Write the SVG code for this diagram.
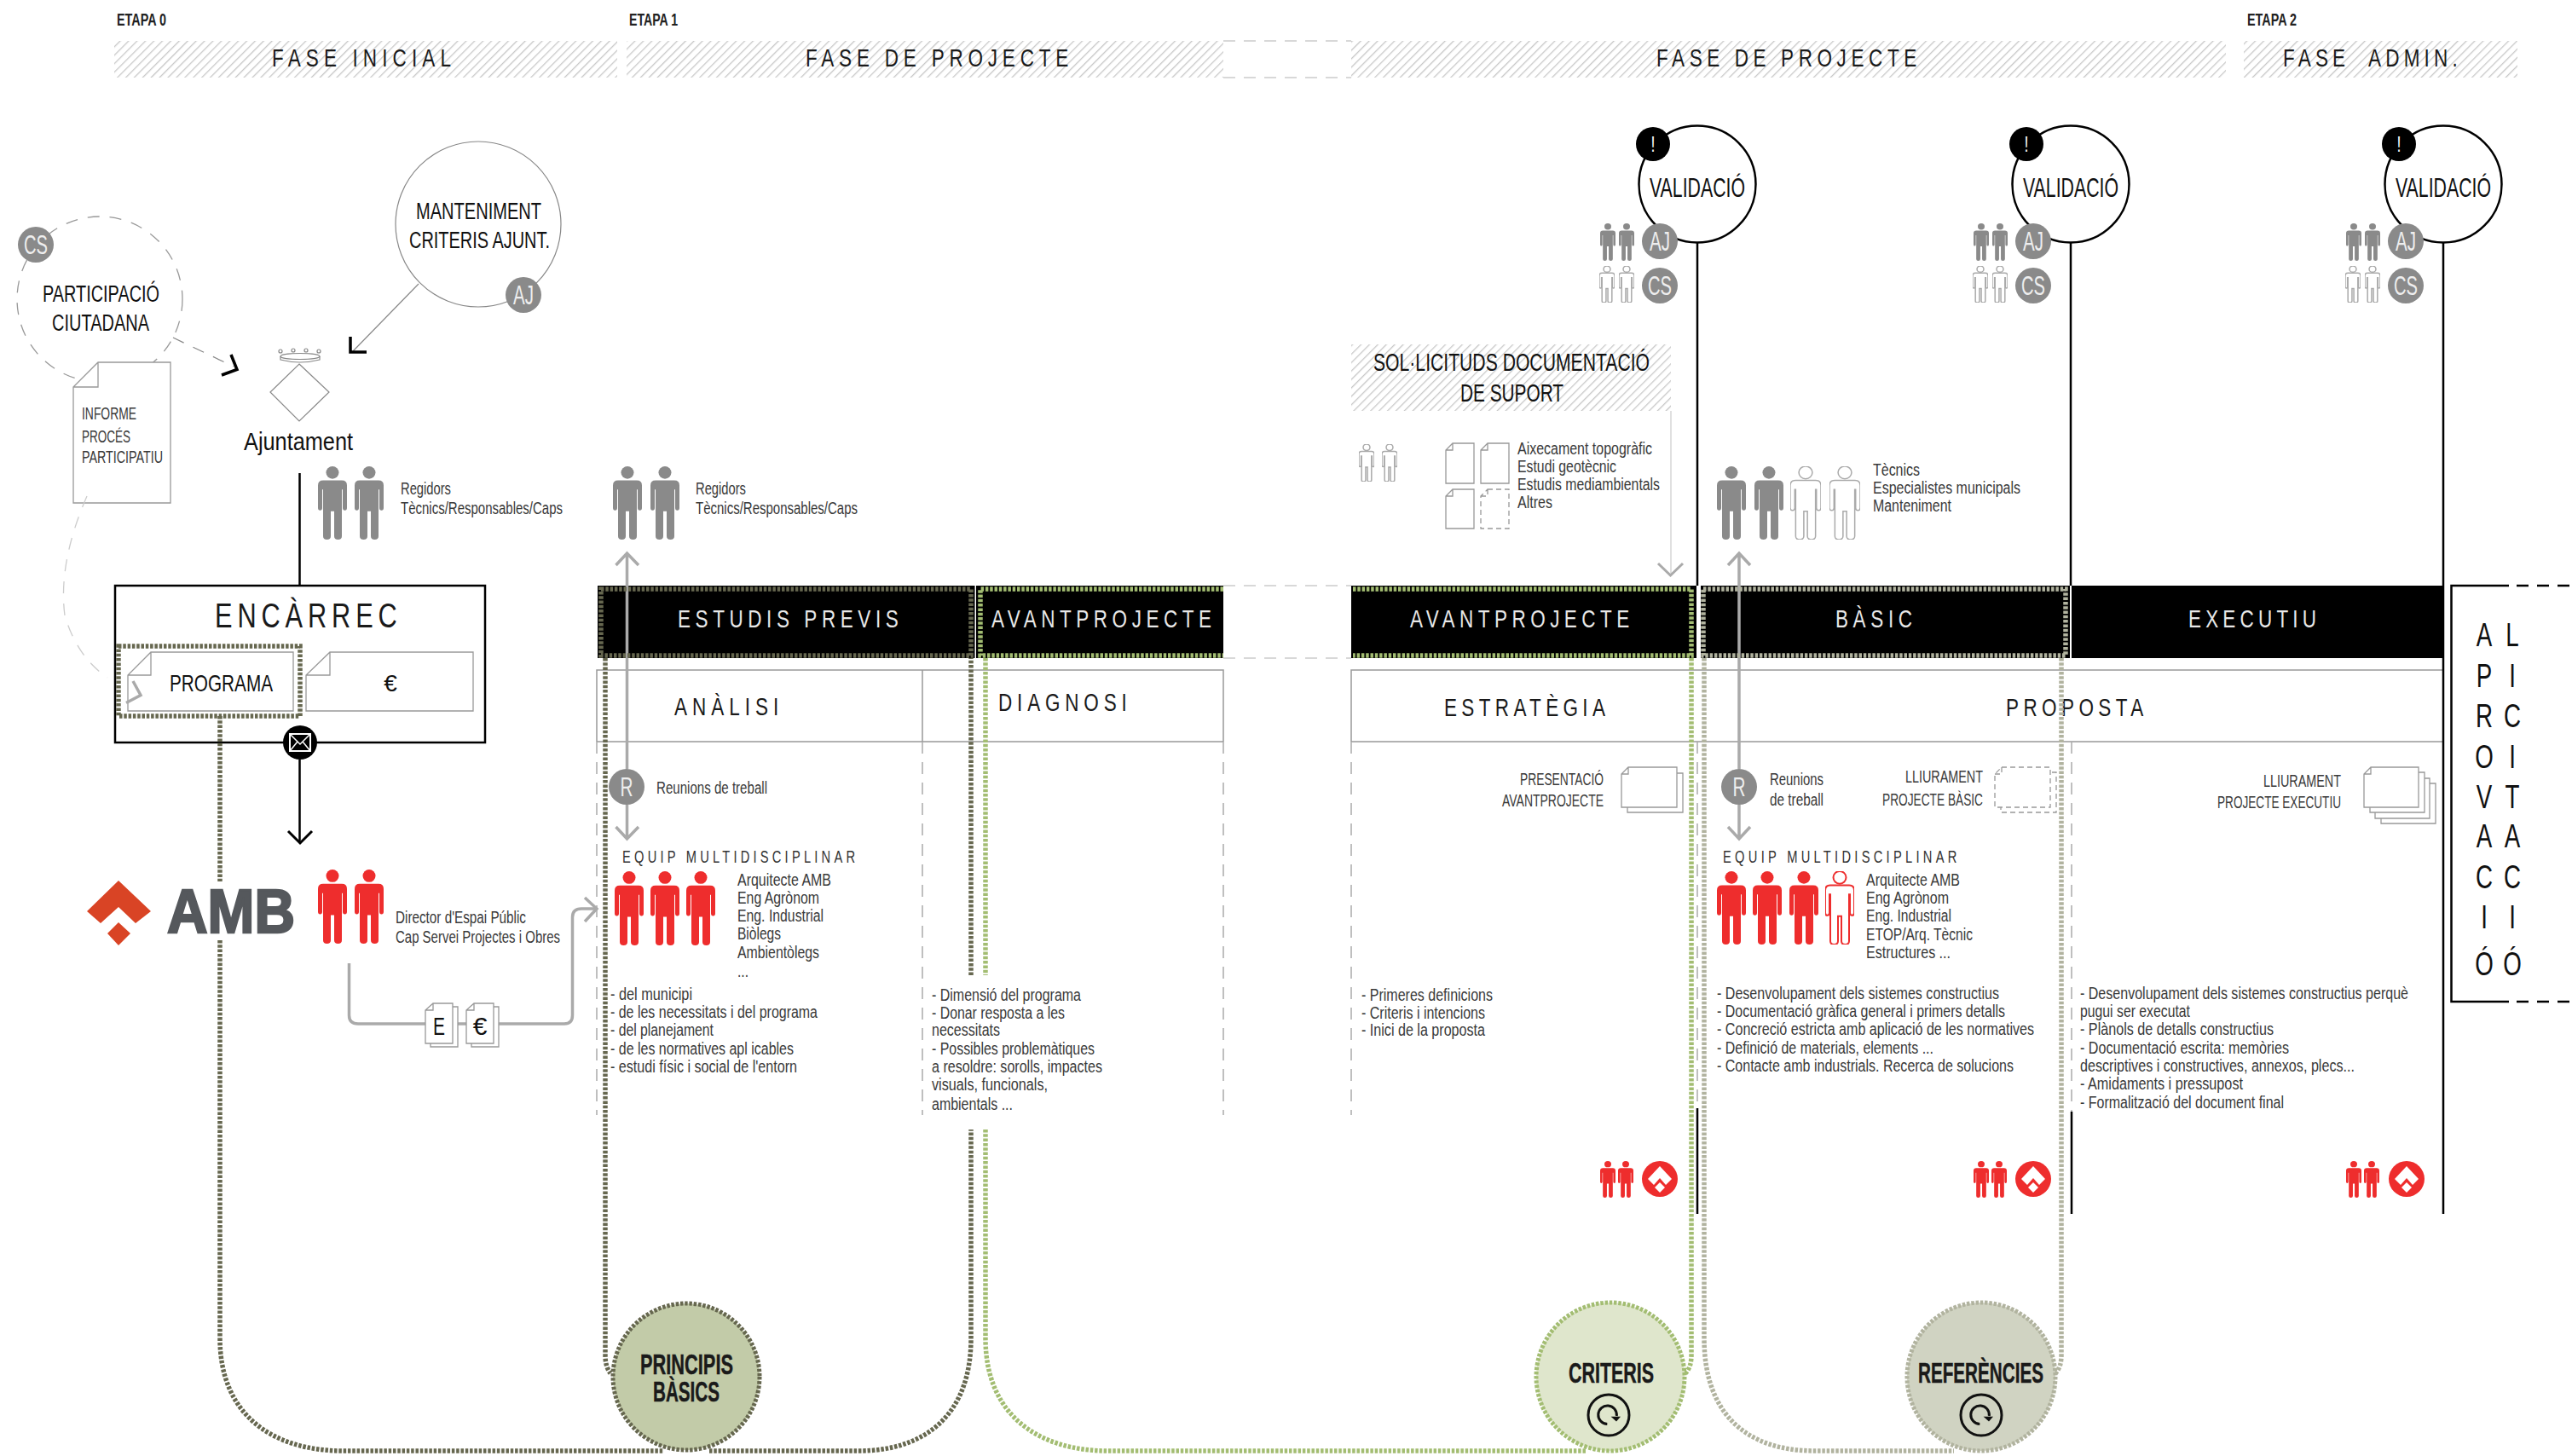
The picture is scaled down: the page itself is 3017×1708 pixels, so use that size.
<svg xmlns="http://www.w3.org/2000/svg" width="3017" height="1708" viewBox="0 0 3017 1708">
<style>
text{font-family:"Liberation Sans",Arial,sans-serif;fill:#222}
.b{font-size:20px;fill:#3a3a3a}
.lb{font-size:27px;fill:#111}
.h{font-size:30px;fill:#1a1a1a}
.w{font-size:30px;fill:#e8e8e8}
.ss{font-size:21px;fill:#333}
.et{font-size:20px;font-weight:bold;fill:#222}
.bd{font-size:33px;font-weight:bold;fill:#1a1a1a;stroke:#1a1a1a;stroke-width:.5}
.bt{font-size:31px;fill:#eee;text-anchor:middle}
.ap{font-size:38px;fill:#111;text-anchor:middle}
.doc{fill:#fff;stroke:#999;stroke-width:1.3}
.docd{fill:#fff;stroke:#999;stroke-width:1.3;stroke-dasharray:6 4}
.thin{fill:none;stroke:#888;stroke-width:1.2}
.vdash{fill:none;stroke:#aaa;stroke-width:1.5;stroke-dasharray:14 10}
.ldash{fill:none;stroke:#ccc;stroke-width:1.5;stroke-dasharray:14 10}
.frame{fill:none;stroke:#999;stroke-width:1.5}
.blk{fill:none;stroke:#000;stroke-width:2.5}
.chev{fill:none;stroke:#000;stroke-width:3.5}
.gl{fill:none;stroke:#aaa;stroke-width:3.5}
.dk,.gn,.gy{fill:none;stroke-width:5.5;stroke-dasharray:3.5 1.8}
.dk{stroke:#66674f}.gn{stroke:#a3bd72}.gy{stroke:#b1b39f}
.box{fill:#000}
.bg{fill:#8a8a8a}
.pg{fill:#8a8a8a}.pr{fill:#ee2d2d}
.og{fill:#fff;stroke:#aaa;stroke-width:1.5}.or{fill:#fff;stroke:#ee2d2d;stroke-width:2}
.val{fill:#fff;stroke:#000;stroke-width:2.5}
</style>
<defs>
<pattern id="hatch" width="7" height="7" patternUnits="userSpaceOnUse" patternTransform="rotate(45)">
<rect width="7" height="7" fill="#fff"/><rect width="1.3" height="7" fill="#c8c8c8"/>
</pattern>
<symbol id="p" viewBox="0 0 34 88" preserveAspectRatio="none">
<circle cx="17" cy="7.5" r="7.5" vector-effect="non-scaling-stroke"/>
<path vector-effect="non-scaling-stroke" d="M6 17H28Q34 17 34 23V50Q34 53 31.5 53Q29 53 29 50V28H28V84Q28 88 23.5 88Q19 88 19 84V54H15V84Q15 88 10.5 88Q6 88 6 84V28H5V50Q5 53 2.5 53Q0 53 0 50V23Q0 17 6 17Z"/>
</symbol>
<symbol id="ref" viewBox="-26 -26 52 52" overflow="visible">
<circle r="24" fill="none" stroke="#111" stroke-width="3"/>
<path d="M-1.700 10.500A10.800 10.800 0 1 1 9.300 1" fill="none" stroke="#111" stroke-width="3"/>
<path d="M2.600 1.700L14 1.700L9 7.500Z" fill="#111"/>
</symbol>
<symbol id="amb" viewBox="-21 -21 42 42" overflow="visible">
<circle r="21" fill="#ee2d2d"/>
<path d="M0 -15L14 0L7 7L0 -1L-7 7L-14 0Z" fill="#fff"/>
<path d="M0 4L6 10L0 16L-6 10Z" fill="#fff"/>
</symbol>
</defs>
<rect width="3017" height="1708" fill="#fff"/>

<g id="fases">
<text x="137" y="30" class="et" textLength="58" lengthAdjust="spacingAndGlyphs">ETAPA 0</text>
<text x="738" y="30" class="et" textLength="57" lengthAdjust="spacingAndGlyphs">ETAPA 1</text>
<text x="2636" y="30" class="et" textLength="58" lengthAdjust="spacingAndGlyphs">ETAPA 2</text>
<rect x="134" y="48" width="590" height="43" fill="url(#hatch)"/>
<rect x="735" y="48" width="700" height="43" fill="url(#hatch)"/>
<rect x="1585" y="48" width="1026" height="43" fill="url(#hatch)"/>
<rect x="2632" y="48" width="321" height="43" fill="url(#hatch)"/>
<path class="ldash" d="M1435 48H1585M1435 91H1585"/>
<text transform="translate(319 78) scale(.75 1)" class="h" textLength="280" lengthAdjust="spacing">FASE INICIAL</text>
<text transform="translate(945 78) scale(.75 1)" class="h" textLength="411" lengthAdjust="spacing">FASE DE PROJECTE</text>
<text transform="translate(1943 78) scale(.75 1)" class="h" textLength="407" lengthAdjust="spacing">FASE DE PROJECTE</text>
<text transform="translate(2678 78) scale(.75 1)" class="h" textLength="273" lengthAdjust="spacing" xml:space="preserve">FASE  ADMIN.</text>
</g>

<g id="participacio">
<circle cx="117" cy="351" r="97" fill="none" stroke="#999" stroke-width="1.3" stroke-dasharray="14 12"/>
<text x="50" y="354" class="lb" textLength="137" lengthAdjust="spacingAndGlyphs">PARTICIPACIÓ</text>
<text x="61" y="388" class="lb" textLength="114" lengthAdjust="spacingAndGlyphs">CIUTADANA</text>
<circle cx="42" cy="287" r="21" class="bg"/><text x="42" y="298" class="bt" textLength="28" lengthAdjust="spacingAndGlyphs">CS</text>
</g>
<g id="informe">
<path class="doc" d="M115 425H200V590H86V454ZM115 425V454H86"/>
<text x="96" y="492" class="b" textLength="64" lengthAdjust="spacingAndGlyphs">INFORME</text>
<text x="96" y="519" class="b" textLength="57" lengthAdjust="spacingAndGlyphs">PROCÉS</text>
<text x="96" y="543" class="b" textLength="95" lengthAdjust="spacingAndGlyphs">PARTICIPATIU</text>
</g>
<g id="manteniment">
<circle cx="561" cy="263" r="97" class="thin" fill="#fff"/>
<text x="488" y="257" class="lb" textLength="147" lengthAdjust="spacingAndGlyphs">MANTENIMENT</text>
<text x="480" y="291" class="lb" textLength="165" lengthAdjust="spacingAndGlyphs">CRITERIS AJUNT.</text>
<circle cx="614" cy="346" r="21" class="bg"/><text x="614" y="357" class="bt" textLength="24" lengthAdjust="spacingAndGlyphs">AJ</text>
</g>
<g id="ajuntament">
<path class="thin" d="M351 427L386 460L351 494L317 460Z"/>
<ellipse cx="352" cy="418" rx="23" ry="3.5" class="thin"/><path class="thin" d="M329 418V422Q352 428 375 422V418"/>
<circle cx="329" cy="412" r="2" class="thin"/><circle cx="344" cy="411" r="2" class="thin"/><circle cx="359" cy="411" r="2" class="thin"/><circle cx="374" cy="412" r="2" class="thin"/>
<text x="286" y="528" textLength="128" lengthAdjust="spacingAndGlyphs" style="font-size:30px;fill:#111">Ajuntament</text>
<use href="#p" x="373" y="547" width="34" height="86" class="pg"/><use href="#p" x="416" y="547" width="34" height="86" class="pg"/>
<text x="470" y="580" class="b" textLength="59" lengthAdjust="spacingAndGlyphs">Regidors</text>
<text x="470" y="603" class="b" textLength="190" lengthAdjust="spacingAndGlyphs">Tècnics/Responsables/Caps</text>
</g>
<g id="encarrec">
<rect x="135" y="687" width="434" height="184" fill="#fff" stroke="#000" stroke-width="2.5"/>
<text transform="translate(252 736) scale(.75 1)" textLength="285" lengthAdjust="spacing" class="h" style="font-size:41px">ENCÀRREC</text>
<path class="doc" d="M177 765H344V834H150V792ZM177 765V792H150"/>
<path class="doc" d="M387 765H555V834H359V792ZM387 765V792H359"/>
<text x="199" y="811" class="lb" style="font-size:28px" textLength="121" lengthAdjust="spacingAndGlyphs">PROGRAMA</text>
<text x="458" y="811" class="lb" style="font-size:28px;text-anchor:middle">€</text>
<path d="M156 799L165 815.5L148 824.5" fill="none" stroke="#aaa" stroke-width="3.5"/>
<rect x="139" y="758" width="213" height="82" class="dk"/>
<circle cx="352" cy="871" r="20" fill="#000"/>
<rect x="340" y="861" width="24" height="20" fill="none" stroke="#fff" stroke-width="2"/><path d="M340 861L352 873L364 861M340 881L349 870M364 881L355 870" fill="none" stroke="#fff" stroke-width="1.5"/>
</g>
<g id="amb-logo">
<path d="M139 1033L177 1069L159 1083L139 1064L118 1083L102 1069Z" fill="#d94425"/>
<path d="M139 1082L153 1095L139 1109L126 1095Z" fill="#d94425"/>
<text x="196" y="1094" style="font-size:72px;fill:#55585c;font-weight:bold;stroke:#55585c;stroke-width:2.5" textLength="150" lengthAdjust="spacingAndGlyphs">AMB</text>
<use href="#p" x="373" y="1020" width="34" height="87" class="pr"/><use href="#p" x="416" y="1020" width="34" height="87" class="pr"/>
<text x="464" y="1083" class="b" textLength="153" lengthAdjust="spacingAndGlyphs">Director d'Espai Públic</text>
<text x="464" y="1106" class="b" textLength="193" lengthAdjust="spacingAndGlyphs">Cap Servei Projectes i Obres</text>
</g>

<g id="seccions">
<path class="frame" d="M700 870V786H1435V870M1082 786V870M700 870H1435"/>
<path class="frame" d="M1585 870V786H2866M1585 870H2866"/>
<path class="vdash" d="M700 870V1308M1082 870V1308M1435 870V1308M1585 870V1308M1991 870V1300M2430 870V1304"/>
<path class="ldash" d="M1435 687H1585M1435 772H1585"/>
<text transform="translate(791 839) scale(.75 1)" class="h" textLength="163" lengthAdjust="spacing">ANÀLISI</text>
<text transform="translate(1171 834) scale(.75 1)" class="h" textLength="201" lengthAdjust="spacing">DIAGNOSI</text>
<text transform="translate(1694 840) scale(.75 1)" class="h" textLength="252" lengthAdjust="spacing">ESTRATÈGIA</text>
<text transform="translate(2353 840) scale(.75 1)" class="h" textLength="215" lengthAdjust="spacing">PROPOSTA</text>
</g>
<g id="estudis-previs">
<rect x="701" y="687" width="442.500" height="85" class="box"/>
<text transform="translate(795 736) scale(.75 1)" class="w" textLength="345" lengthAdjust="spacing">ESTUDIS PREVIS</text>
</g>
<g id="avantprojecte-1">
<rect x="1145" y="687" width="290" height="85" class="box"/>
<text transform="translate(1163 736) scale(.75 1)" class="w" textLength="344" lengthAdjust="spacing">AVANTPROJECTE</text>
</g>
<g id="avantprojecte-2">
<rect x="1585" y="687" width="405" height="85" class="box"/>
<text transform="translate(1654 736) scale(.75 1)" class="w" textLength="343" lengthAdjust="spacing">AVANTPROJECTE</text>
</g>
<g id="basic">
<rect x="1995" y="687" width="433" height="85" class="box"/>
<text transform="translate(2153 736) scale(.75 1)" class="w" textLength="120" lengthAdjust="spacing">BÀSIC</text>
</g>
<g id="executiu">
<rect x="2430" y="687" width="436" height="85" class="box"/>
<text transform="translate(2567 736) scale(.75 1)" class="w" textLength="200" lengthAdjust="spacing">EXECUTIU</text>
</g>

<g id="analisi-contingut">
<circle cx="735" cy="923" r="21" class="bg"/><text x="735" y="934" class="bt" textLength="15" lengthAdjust="spacingAndGlyphs">R</text>
<text x="770" y="931" class="b" textLength="130" lengthAdjust="spacingAndGlyphs">Reunions de treball</text>
<text transform="translate(730 1012) scale(.7 1)" class="ss" textLength="390" lengthAdjust="spacing">EQUIP MULTIDISCIPLINAR</text>
<use href="#p" x="721" y="1022" width="34" height="87" class="pr"/><use href="#p" x="763" y="1022" width="34" height="87" class="pr"/><use href="#p" x="805" y="1022" width="34" height="87" class="pr"/>
<text x="865" y="1039" class="b" textLength="110" lengthAdjust="spacingAndGlyphs">Arquitecte AMB</text>
<text x="865" y="1060" class="b" textLength="96" lengthAdjust="spacingAndGlyphs">Eng Agrònom</text>
<text x="865" y="1081" class="b" textLength="101" lengthAdjust="spacingAndGlyphs">Eng. Industrial</text>
<text x="865" y="1102" class="b" textLength="51" lengthAdjust="spacingAndGlyphs">Biòlegs</text>
<text x="865" y="1124" class="b" textLength="96" lengthAdjust="spacingAndGlyphs">Ambientòlegs</text>
<text x="865" y="1146" class="b" textLength="13" lengthAdjust="spacingAndGlyphs">...</text>
<text x="716" y="1173" class="b" textLength="96" lengthAdjust="spacingAndGlyphs">- del municipi</text>
<text x="716" y="1194" class="b" textLength="243" lengthAdjust="spacingAndGlyphs">- de les necessitats i del programa</text>
<text x="716" y="1215" class="b" textLength="121" lengthAdjust="spacingAndGlyphs">- del planejament</text>
<text x="716" y="1237" class="b" textLength="215" lengthAdjust="spacingAndGlyphs">- de les normatives apl icables</text>
<text x="716" y="1258" class="b" textLength="219" lengthAdjust="spacingAndGlyphs">- estudi físic i social de l'entorn</text>
<use href="#p" x="719" y="547" width="34" height="86" class="pg"/><use href="#p" x="763" y="547" width="34" height="86" class="pg"/>
<text x="816" y="580" class="b" textLength="59" lengthAdjust="spacingAndGlyphs">Regidors</text>
<text x="816" y="603" class="b" textLength="190" lengthAdjust="spacingAndGlyphs">Tècnics/Responsables/Caps</text>
</g>
<g id="diagnosi-contingut">
<text x="1093" y="1174" class="b" textLength="175" lengthAdjust="spacingAndGlyphs">- Dimensió del programa</text>
<text x="1093" y="1195" class="b" textLength="156" lengthAdjust="spacingAndGlyphs">- Donar resposta a les</text>
<text x="1093" y="1215" class="b" textLength="80" lengthAdjust="spacingAndGlyphs">necessitats</text>
<text x="1093" y="1237" class="b" textLength="191" lengthAdjust="spacingAndGlyphs">- Possibles problemàtiques</text>
<text x="1093" y="1258" class="b" textLength="200" lengthAdjust="spacingAndGlyphs">a resoldre: sorolls, impactes</text>
<text x="1093" y="1279" class="b" textLength="136" lengthAdjust="spacingAndGlyphs">visuals, funcionals,</text>
<text x="1093" y="1302" class="b" textLength="95" lengthAdjust="spacingAndGlyphs">ambientals ...</text>
</g>
<g id="estrategia-contingut">
<text x="1783" y="921" class="b" textLength="98" lengthAdjust="spacingAndGlyphs">PRESENTACIÓ</text>
<text x="1762" y="946" class="b" textLength="119" lengthAdjust="spacingAndGlyphs">AVANTPROJECTE</text>
<path class="doc" d="M1909 907H1974V953H1909Z"/>
<path class="doc" d="M1910 900H1967V947H1902V908ZM1910 900V908H1902"/>
<text x="1597" y="1174" class="b" textLength="154" lengthAdjust="spacingAndGlyphs">- Primeres definicions</text>
<text x="1597" y="1195" class="b" textLength="145" lengthAdjust="spacingAndGlyphs">- Criteris i intencions</text>
<text x="1597" y="1215" class="b" textLength="145" lengthAdjust="spacingAndGlyphs">- Inici de la proposta</text>
</g>
<g id="sollicituds">
<rect x="1585" y="404" width="375" height="78" fill="url(#hatch)"/>
<text x="1611" y="435" class="lb" style="font-size:29px" textLength="324" lengthAdjust="spacingAndGlyphs">SOL·LICITUDS DOCUMENTACIÓ</text>
<text x="1713" y="471" class="lb" style="font-size:29px" textLength="121" lengthAdjust="spacingAndGlyphs">DE SUPORT</text>
<use href="#p" x="1594" y="521" width="18" height="44" class="og"/><use href="#p" x="1621" y="521" width="18" height="44" class="og"/>
<path class="doc" d="M1704 520H1729V567H1696V528ZM1704 520V528H1696"/>
<path class="doc" d="M1745 520H1770V567H1737V528ZM1745 520V528H1737"/>
<path class="doc" d="M1704 574H1729V620H1696V582ZM1704 574V582H1696"/>
<path class="docd" d="M1745 574H1770V620H1737V582ZM1745 574V582H1737"/>
<text x="1780" y="533" class="b" textLength="158" lengthAdjust="spacingAndGlyphs">Aixecament topogràfic</text>
<text x="1780" y="554" class="b" textLength="116" lengthAdjust="spacingAndGlyphs">Estudi geotècnic</text>
<text x="1780" y="575" class="b" textLength="167" lengthAdjust="spacingAndGlyphs">Estudis mediambientals</text>
<text x="1780" y="596" class="b" textLength="41" lengthAdjust="spacingAndGlyphs">Altres</text>
</g>
<g id="basic-contingut">
<use href="#p" x="2014" y="547" width="34" height="86" class="pg"/><use href="#p" x="2058" y="547" width="34" height="86" class="pg"/><use href="#p" x="2100" y="547" width="36" height="86" class="og"/><use href="#p" x="2146" y="547" width="36" height="86" class="og"/>
<text x="2197" y="558" class="b" textLength="55" lengthAdjust="spacingAndGlyphs">Tècnics</text>
<text x="2197" y="579" class="b" textLength="173" lengthAdjust="spacingAndGlyphs">Especialistes municipals</text>
<text x="2197" y="600" class="b" textLength="92" lengthAdjust="spacingAndGlyphs">Manteniment</text>
<circle cx="2040" cy="923" r="21" class="bg"/><text x="2040" y="934" class="bt" textLength="15" lengthAdjust="spacingAndGlyphs">R</text>
<text x="2076" y="921" class="b" textLength="63" lengthAdjust="spacingAndGlyphs">Reunions</text>
<text x="2076" y="945" class="b" textLength="63" lengthAdjust="spacingAndGlyphs">de treball</text>
<text x="2235" y="918" class="b" textLength="91" lengthAdjust="spacingAndGlyphs">LLIURAMENT</text>
<text x="2208" y="945" class="b" textLength="118" lengthAdjust="spacingAndGlyphs">PROJECTE BÀSIC</text>
<path class="docd" d="M2347 906H2412V953H2347Z"/>
<path class="docd" d="M2348 900H2405V947H2340V908ZM2348 900V908H2340"/>
<text transform="translate(2021 1012) scale(.7 1)" class="ss" textLength="392" lengthAdjust="spacing">EQUIP MULTIDISCIPLINAR</text>
<use href="#p" x="2014" y="1022" width="34" height="86" class="pr"/><use href="#p" x="2056" y="1022" width="34" height="86" class="pr"/><use href="#p" x="2099" y="1022" width="34" height="86" class="pr"/><use href="#p" x="2141" y="1022" width="34" height="86" class="or"/>
<text x="2189" y="1039" class="b" textLength="110" lengthAdjust="spacingAndGlyphs">Arquitecte AMB</text>
<text x="2189" y="1060" class="b" textLength="97" lengthAdjust="spacingAndGlyphs">Eng Agrònom</text>
<text x="2189" y="1081" class="b" textLength="100" lengthAdjust="spacingAndGlyphs">Eng. Industrial</text>
<text x="2189" y="1103" class="b" textLength="125" lengthAdjust="spacingAndGlyphs">ETOP/Arq. Tècnic</text>
<text x="2189" y="1124" class="b" textLength="99" lengthAdjust="spacingAndGlyphs">Estructures ...</text>
<text x="2014" y="1172" class="b" textLength="331" lengthAdjust="spacingAndGlyphs">- Desenvolupament dels sistemes constructius</text>
<text x="2014" y="1193" class="b" textLength="338" lengthAdjust="spacingAndGlyphs">- Documentació gràfica general i primers detalls</text>
<text x="2014" y="1214" class="b" textLength="372" lengthAdjust="spacingAndGlyphs">- Concreció estricta amb aplicació de les normatives</text>
<text x="2014" y="1236" class="b" textLength="254" lengthAdjust="spacingAndGlyphs">- Definició de materials, elements ...</text>
<text x="2014" y="1257" class="b" textLength="348" lengthAdjust="spacingAndGlyphs">- Contacte amb industrials. Recerca de solucions</text>
</g>
<g id="executiu-contingut">
<text x="2655" y="923" class="b" textLength="91" lengthAdjust="spacingAndGlyphs">LLIURAMENT</text>
<text x="2601" y="948" class="b" textLength="145" lengthAdjust="spacingAndGlyphs">PROJECTE EXECUTIU</text>
<path class="doc" d="M2793 919H2857V966H2793Z"/>
<path class="doc" d="M2786 913H2850V960H2786Z"/>
<path class="doc" d="M2780 906H2844V953H2780Z"/>
<path class="doc" d="M2781 900H2837V947H2773V908ZM2781 900V908H2773"/>
<text x="2440" y="1172" class="b" textLength="385" lengthAdjust="spacingAndGlyphs">- Desenvolupament dels sistemes constructius perquè</text>
<text x="2440" y="1193" class="b" textLength="129" lengthAdjust="spacingAndGlyphs">pugui ser executat</text>
<text x="2440" y="1214" class="b" textLength="227" lengthAdjust="spacingAndGlyphs">- Plànols de detalls constructius</text>
<text x="2440" y="1236" class="b" textLength="245" lengthAdjust="spacingAndGlyphs">- Documentació escrita: memòries</text>
<text x="2440" y="1257" class="b" textLength="322" lengthAdjust="spacingAndGlyphs">descriptives i constructives, annexos, plecs...</text>
<text x="2440" y="1278" class="b" textLength="191" lengthAdjust="spacingAndGlyphs">- Amidaments i pressupost</text>
<text x="2440" y="1300" class="b" textLength="239" lengthAdjust="spacingAndGlyphs">- Formalització del document final</text>
</g>

<g id="validacio-1">
<circle cx="1991" cy="216" r="68.500" class="val"/>
<text x="1935" y="231" class="lb" style="font-size:32px" textLength="112" lengthAdjust="spacingAndGlyphs">VALIDACIÓ</text>
<circle cx="1939" cy="169" r="20" fill="#000"/><text x="1939" y="178" style="font-size:25px;fill:#fff;text-anchor:middle" textLength="5" lengthAdjust="spacingAndGlyphs">!</text>
<use href="#p" x="1877" y="262" width="18" height="44" class="pg"/><use href="#p" x="1899" y="262" width="18" height="44" class="pg"/>
<use href="#p" x="1876" y="312" width="18" height="43" class="og"/><use href="#p" x="1899" y="312" width="18" height="43" class="og"/>
<circle cx="1947" cy="283" r="21" class="bg"/><text x="1947" y="294" class="bt" textLength="24" lengthAdjust="spacingAndGlyphs">AJ</text>
<circle cx="1947" cy="335" r="21" class="bg"/><text x="1947" y="346" class="bt" textLength="28" lengthAdjust="spacingAndGlyphs">CS</text>
</g>
<g id="validacio-2">
<circle cx="2429" cy="216" r="68.500" class="val"/>
<text x="2373" y="231" class="lb" style="font-size:32px" textLength="112" lengthAdjust="spacingAndGlyphs">VALIDACIÓ</text>
<circle cx="2377" cy="169" r="20" fill="#000"/><text x="2377" y="178" style="font-size:25px;fill:#fff;text-anchor:middle" textLength="5" lengthAdjust="spacingAndGlyphs">!</text>
<use href="#p" x="2315" y="262" width="18" height="44" class="pg"/><use href="#p" x="2337" y="262" width="18" height="44" class="pg"/>
<use href="#p" x="2314" y="312" width="18" height="43" class="og"/><use href="#p" x="2337" y="312" width="18" height="43" class="og"/>
<circle cx="2385" cy="283" r="21" class="bg"/><text x="2385" y="294" class="bt" textLength="24" lengthAdjust="spacingAndGlyphs">AJ</text>
<circle cx="2385" cy="335" r="21" class="bg"/><text x="2385" y="346" class="bt" textLength="28" lengthAdjust="spacingAndGlyphs">CS</text>
</g>
<g id="validacio-3">
<circle cx="2866" cy="216" r="68.500" class="val"/>
<text x="2810" y="231" class="lb" style="font-size:32px" textLength="112" lengthAdjust="spacingAndGlyphs">VALIDACIÓ</text>
<circle cx="2814" cy="169" r="20" fill="#000"/><text x="2814" y="178" style="font-size:25px;fill:#fff;text-anchor:middle" textLength="5" lengthAdjust="spacingAndGlyphs">!</text>
<use href="#p" x="2752" y="262" width="18" height="44" class="pg"/><use href="#p" x="2774" y="262" width="18" height="44" class="pg"/>
<use href="#p" x="2751" y="312" width="18" height="43" class="og"/><use href="#p" x="2774" y="312" width="18" height="43" class="og"/>
<circle cx="2822" cy="283" r="21" class="bg"/><text x="2822" y="294" class="bt" textLength="24" lengthAdjust="spacingAndGlyphs">AJ</text>
<circle cx="2822" cy="335" r="21" class="bg"/><text x="2822" y="346" class="bt" textLength="28" lengthAdjust="spacingAndGlyphs">CS</text>
</g>
<g id="aprovacio">
<path class="blk" d="M2943 687H2875.500V1175H2943"/>
<path d="M2952 687H3017M2952 1175H3017" fill="none" stroke="#000" stroke-width="2.500" stroke-dasharray="14 10"/>
<g transform="translate(2914 0) scale(.73 1)">
<text y="758" class="ap">A</text><text y="806" class="ap">P</text><text y="853" class="ap">R</text><text y="901" class="ap">O</text><text y="948" class="ap">V</text><text y="994" class="ap">A</text><text y="1042" class="ap">C</text><text y="1089" class="ap">I</text><text y="1144" class="ap">Ó</text>
</g>
<g transform="translate(2947 0) scale(.73 1)">
<text y="758" class="ap">L</text><text y="806" class="ap">I</text><text y="853" class="ap">C</text><text y="901" class="ap">I</text><text y="948" class="ap">T</text><text y="994" class="ap">A</text><text y="1042" class="ap">C</text><text y="1089" class="ap">I</text><text y="1144" class="ap">Ó</text>
</g>
</g>
<g id="amb-icones">
<use href="#p" x="1877" y="1362" width="18" height="43" class="pr"/><use href="#p" x="1898" y="1362" width="18" height="43" class="pr"/><use href="#amb" x="1926" y="1362" width="42" height="42"/>
<use href="#p" x="2315" y="1362" width="18" height="43" class="pr"/><use href="#p" x="2336" y="1362" width="18" height="43" class="pr"/><use href="#amb" x="2364" y="1362" width="42" height="42"/>
<use href="#p" x="2752" y="1362" width="18" height="43" class="pr"/><use href="#p" x="2773" y="1362" width="18" height="43" class="pr"/><use href="#amb" x="2802" y="1362" width="42" height="42"/>
</g>

<g id="connectors">
<path class="thin" d="M491 333L414 412"/>
<path class="chev" d="M411 395V413H430"/>
<path d="M203 396L274 430" fill="none" stroke="#888" stroke-width="1.3" stroke-dasharray="14 12"/>
<path class="chev" d="M271 416L278 433.500L260 440"/>
<path d="M102 582Q68 660 76 722Q90 770 126 795" fill="none" stroke="#ccc" stroke-width="1.3" stroke-dasharray="14 12"/>
<path class="blk" d="M351.500 555V687M351.500 891V987"/>
<path fill="none" stroke="#000" stroke-width="3" d="M338 975L352 989L366 975"/>
<path class="gl" d="M409.500 1130V1191Q409.500 1201 420 1201H499M531 1201H547M579 1201H662Q671.500 1201 671.500 1191V1076Q671.500 1066 682 1066H699"/>
<path class="gl" d="M686 1053L700 1066L686 1081"/>
<g>
<path class="doc" d="M505 1181H537V1228H505Z"/><path class="doc" d="M508 1177H531V1224H499V1185ZM508 1177V1185H499"/>
<text x="515" y="1214" class="lb" style="font-size:30px;text-anchor:middle" textLength="14" lengthAdjust="spacingAndGlyphs">E</text>
<path class="doc" d="M553 1181H585V1228H553Z"/><path class="doc" d="M556 1177H579V1224H547V1185ZM556 1177V1185H547"/>
<text x="563" y="1214" class="lb" style="font-size:30px;text-anchor:middle">€</text>
</g>
<path class="gl" d="M735.500 649V902M735.500 944V983M722.500 663L735.500 649L749 663M722.500 970L735.500 984L749 970"/>
<path class="gl" d="M2040 649V902M2040 944V983M2027 663L2040 649L2053 663M2027 970L2040 984L2053 970"/>
<path d="M1960 482V674" fill="none" stroke="#ccc" stroke-width="1.2"/>
<path d="M1945 661L1959.500 675L1974 661" fill="none" stroke="#aaa" stroke-width="3"/>
<path class="blk" d="M1991 284.500V687M2429 284.500V687M2866 284.500V1424M1991 1300V1424M2430 1304V1424"/>
<rect x="705" y="691" width="434" height="78" class="dk"/>
<path class="gn" d="M1435 691H1150V769H1435M1587 691H1984V769H1587"/>
<rect x="1998" y="691" width="425" height="78" class="gy"/>
<path class="dk" d="M258 840V1034M258 1103V1570C258 1660 320 1702 403 1702H779M832 1702H1007C1085 1702 1139 1660 1139 1570V1325M1139 1144V772M710 772V1590Q710 1603 716 1611"/>
<path class="gn" d="M1156 772V1144M1156 1325V1570C1156 1660 1218 1702 1300 1702H1860M1984 772V1590Q1984 1604 1977 1611"/>
<path class="gy" d="M1999 772V1570C1999 1660 2050 1702 2129 1702H2292M2418 772V1590Q2418 1604 2411 1611"/>
</g>

<g id="principis-basics">
<circle cx="805" cy="1615" r="86" fill="#c2cba8" stroke="#66674f" stroke-width="5" stroke-dasharray="3.500 1.800"/>
<text x="751" y="1612" class="bd" textLength="109" lengthAdjust="spacingAndGlyphs">PRINCIPIS</text>
<text x="766" y="1644" class="bd" textLength="78" lengthAdjust="spacingAndGlyphs">BÀSICS</text>
</g>
<g id="criteris">
<circle cx="1889" cy="1615" r="87" fill="#dfe6cc" stroke="#a3bd72" stroke-width="5" stroke-dasharray="3.500 1.800"/>
<text x="1840" y="1622" class="bd" textLength="100" lengthAdjust="spacingAndGlyphs">CRITERIS</text>
<use href="#ref" x="1861" y="1634" width="52" height="52"/>
</g>
<g id="referencies">
<circle cx="2324" cy="1615" r="87" fill="#d0d3c2" stroke="#b1b39f" stroke-width="5" stroke-dasharray="3.500 1.800"/>
<text x="2250" y="1622" class="bd" textLength="147" lengthAdjust="spacingAndGlyphs">REFERÈNCIES</text>
<use href="#ref" x="2298" y="1634" width="52" height="52"/>
</g>
</svg>
